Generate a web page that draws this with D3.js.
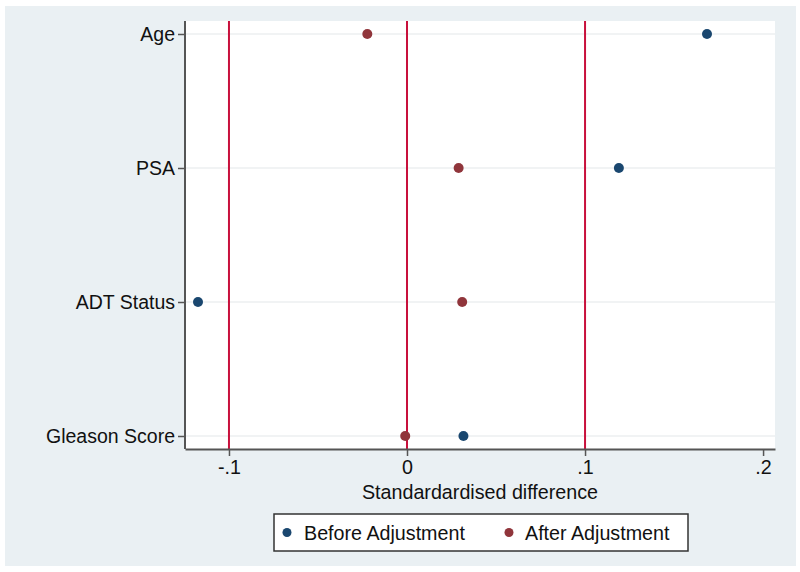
<!DOCTYPE html>
<html>
<head>
<meta charset="utf-8">
<script src="https://cdn.jsdelivr.net/npm/d3@7"></script>
<style>
  html, body { margin: 0; padding: 0; background: #ffffff; }
  svg { display: block; font-family: "Liberation Sans", Arial, Helvetica, sans-serif; }
</style>
</head>
<body>
<svg id="chart" width="800" height="572"></svg>
<script>
const categories = ["Age", "PSA", "ADT Status", "Gleason Score"];
const beforeValues = [0.1685, 0.119, -0.1174, 0.0317];
const afterValues = [-0.0223, 0.029, 0.031, -0.001];
const xTicks = [-0.1, 0, 0.1, 0.2];
const xTickLabels = ["-.1", "0", ".1", ".2"];
const refLines = [-0.1, 0, 0.1];
const seriesNames = ["Before Adjustment", "After Adjustment"];
const seriesColors = ["#1a476f", "#90353b"];

const svg = d3.select("#chart");

// outer background
svg.append("rect").attr("x", 5).attr("y", 6).attr("width", 791).attr("height", 560)
  .attr("fill", "#eaf0f3");

const plot = { left: 185, right: 775, top: 21, bottom: 449 };

const x = d3.scaleLinear()
  .domain([-0.1247, 0.2067])
  .range([plot.left, plot.right]);

const y = d3.scalePoint()
  .domain(categories)
  .range([plot.top + 13, plot.bottom - 13]);

// plot area
svg.append("rect")
  .attr("x", plot.left).attr("y", plot.top)
  .attr("width", plot.right - plot.left).attr("height", plot.bottom - plot.top)
  .attr("fill", "#ffffff");

// horizontal gridlines
svg.append("g").selectAll("line").data(categories).join("line")
  .attr("x1", plot.left).attr("x2", plot.right)
  .attr("y1", d => y(d)).attr("y2", d => y(d))
  .attr("stroke", "#eceff1").attr("stroke-width", 1.5);

// reference lines
svg.append("g").selectAll("line").data(refLines).join("line")
  .attr("x1", d => x(d)).attr("x2", d => x(d))
  .attr("y1", plot.top).attr("y2", plot.bottom)
  .attr("stroke", "#c8103c").attr("stroke-width", 2);

// axes
const xAxis = d3.axisBottom(x).tickValues(xTicks)
  .tickFormat((d, i) => xTickLabels[i]).tickSize(7).tickSizeOuter(0).tickPadding(4);
const gx = svg.append("g").attr("transform", `translate(0,${plot.bottom})`).call(xAxis);
gx.select(".domain").attr("stroke", "#555").attr("stroke-width", 2);
gx.selectAll(".tick line").attr("stroke", "#555").attr("stroke-width", 1.5);
gx.selectAll(".tick text").attr("font-size", 19.7).attr("fill", "#111")
  .attr("font-family", "Liberation Sans, Arial, sans-serif");

const yAxis = d3.axisLeft(y).tickSize(7).tickSizeOuter(0).tickPadding(3);
const gy = svg.append("g").attr("transform", `translate(${plot.left},0)`).call(yAxis);
gy.select(".domain").attr("stroke", "#555").attr("stroke-width", 2)
  .attr("d", `M0,${plot.top}V${plot.bottom}`);
gy.selectAll(".tick line").attr("stroke", "#555").attr("stroke-width", 1.5);
gy.selectAll(".tick text").attr("font-size", 19.5).attr("fill", "#111")
  .attr("font-family", "Liberation Sans, Arial, sans-serif");

// axis title
svg.append("text")
  .attr("x", (plot.left + plot.right) / 2 + 0).attr("y", 499)
  .attr("text-anchor", "middle").attr("font-size", 19.7).attr("fill", "#111")
  .text("Standardardised difference");

// points
const rows = categories.map((c, i) => ({ cat: c, before: beforeValues[i], after: afterValues[i] }));
svg.append("g").selectAll("circle").data(rows).join("circle")
  .attr("cx", d => x(d.after)).attr("cy", d => y(d.cat)).attr("r", 5)
  .attr("fill", seriesColors[1]);
svg.append("g").selectAll("circle").data(rows).join("circle")
  .attr("cx", d => x(d.before)).attr("cy", d => y(d.cat)).attr("r", 5)
  .attr("fill", seriesColors[0]);

// legend
const lg = svg.append("g");
lg.append("rect").attr("x", 274).attr("y", 514).attr("width", 414).attr("height", 37)
  .attr("fill", "#ffffff").attr("stroke", "#333").attr("stroke-width", 1.5);
const legendItems = [
  { name: seriesNames[0], color: seriesColors[0], dotX: 287, textX: 304 },
  { name: seriesNames[1], color: seriesColors[1], dotX: 509, textX: 525 }
];
legendItems.forEach(it => {
  lg.append("circle").attr("cx", it.dotX).attr("cy", 532.5).attr("r", 4.5).attr("fill", it.color);
  lg.append("text").attr("x", it.textX).attr("y", 539.5).attr("font-size", 19.7).attr("fill", "#111")
    .text(it.name);
});
</script>
</body>
</html>
